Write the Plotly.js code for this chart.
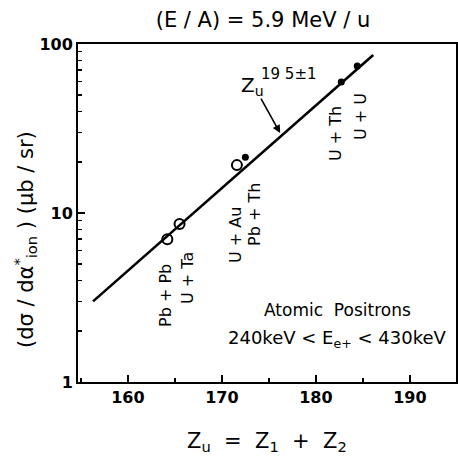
<!DOCTYPE html>
<html>
<head>
<meta charset="utf-8">
<script src="https://cdn.plot.ly/plotly-3.0.1.min.js"></script>
<style>html,body{margin:0;padding:0;background:#fff;}</style>
</head>
<body>
<div id="chart" style="width:458px;height:457px;"></div>
<script>
// Atomic positron yield vs. combined nuclear charge, (E/A) = 5.9 MeV/u
const openZ = [164.2, 165.5, 171.6];
const openSigma = [7.0, 8.6, 19.2];
const filledZ = [172.5, 182.7, 184.4];
const filledSigma = [21.4, 59.6, 74.0];
const fitZ = [156.3, 186.1];
const fitSigma = [3.0, 86.0];
const xTicks = [160, 170, 180, 190];
const yTicks = [1, 10, 100];
const yMinor = [2, 3, 4, 5, 6, 7, 8, 9, 20, 30, 40, 50, 60, 70, 80, 90];

const FONT = 'DejaVu Sans, Liberation Sans, sans-serif';
const ink = '#000';

const traces = [
  {x: fitZ, y: fitSigma, mode: 'lines', line: {color: ink, width: 2.6}, hoverinfo: 'skip'},
  {x: openZ, y: openSigma, mode: 'markers',
   marker: {symbol: 'circle-open', size: 10, color: ink, line: {width: 2, color: ink}}},
  {x: filledZ, y: filledSigma, mode: 'markers',
   marker: {symbol: 'circle', size: 7, color: ink}}
];

function px2paper(px, py) {
  return {x: (px - 78) / 378, y: (382 - py) / 338};
}
function label(text, px, py, size, angle) {
  const p = px2paper(px, py);
  return {text: text, xref: 'paper', yref: 'paper', x: p.x, y: p.y, textangle: angle || 0,
          xanchor: 'center', yanchor: 'middle',
          showarrow: false, font: {family: FONT, size: size, color: ink}};
}

const annotations = [
  label('Pb + Pb', 165, 296, 16, -90),
  label('U + Ta', 187, 278, 16, -90),
  label('U + Au', 235, 235, 16, -90),
  label('Pb + Th', 254, 215, 16, -90),
  label('U + Th', 335, 134, 16, -90),
  label('U + U', 360, 117, 16, -90),
  label('Atomic  Positrons', 337, 310, 17),
  label('240keV < E<sub>e+</sub> < 430keV', 337, 339, 18),
  label('Z<sub>u</sub>', 252, 86, 20),
  label('19 5±1', 289, 74, 15),
  // axis titles
  label('(dσ / dα<sup>*</sup><sub>ion</sub> ) (μb / sr)', 25, 240, 21, -90),
  label('Z<sub>u</sub>  =  Z<sub>1</sub>  +  Z<sub>2</sub>', 267, 442, 21),
  // arrow pointing at the fitted line
  {text: '', x: 176.2, y: Math.log10(29.7), xref: 'x', yref: 'y',
   showarrow: true, arrowhead: 2, arrowsize: 1, arrowwidth: 1.6, arrowcolor: ink,
   ax: -20, ay: -36, standoff: 0}
];

const layout = {
  width: 458, height: 457,
  margin: {l: 78, r: 2, t: 44, b: 75},
  paper_bgcolor: '#fff', plot_bgcolor: '#fff',
  showlegend: false,
  title: {text: '(E / A) = 5.9 MeV / u', x: 263 / 458, xanchor: 'center', y: 1 - 20 / 457, yanchor: 'middle',
          font: {family: FONT, size: 21, color: ink}},
  xaxis: {
    range: [154.7, 194.9], tickvals: xTicks, ticks: 'inside', ticklen: 7, tickwidth: 1.5, tickcolor: ink,
    minor: {tickvals: [155, 165, 175, 185], ticks: 'inside', ticklen: 4, tickcolor: ink},
    showline: true, linecolor: ink, linewidth: 2, mirror: true, showgrid: false, zeroline: false,
    tickfont: {family: FONT, size: 16, color: ink, weight: 'bold'}
  },
  yaxis: {
    type: 'log', range: [0, 2], tickvals: yTicks, ticktext: ['1', '10', '100'],
    ticks: 'inside', ticklen: 7, tickwidth: 1.5, tickcolor: ink,
    minor: {tickvals: yMinor, ticks: 'inside', ticklen: 4, tickcolor: ink},
    showline: true, linecolor: ink, linewidth: 2, mirror: true, showgrid: false, zeroline: false,
    tickfont: {family: FONT, size: 16, color: ink, weight: 'bold'}
  },
  annotations: annotations
};

Plotly.newPlot('chart', traces, layout, {displayModeBar: false, staticPlot: true});
</script>
</body>
</html>
